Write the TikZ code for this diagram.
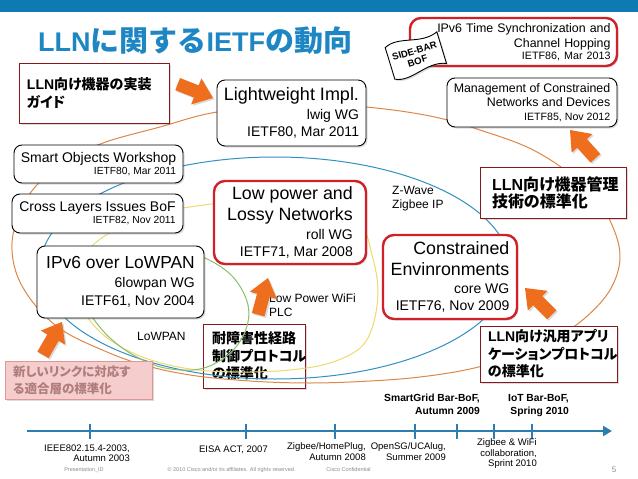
\documentclass[tikz,border=0pt]{standalone}
\usepackage{fontspec}
\setmainfont{Liberation Sans}
\newfontfamily\jpb{Noto Sans CJK JP Bold}[RawFeature=+palt]
\newfontfamily\jpt{Noto Sans CJK JP Bold}
\usetikzlibrary{shadows,arrows.meta}
\definecolor{bandblue}{RGB}{14,122,180}
\definecolor{titleblue}{RGB}{30,135,195}
\definecolor{boxred}{RGB}{208,32,40}
\definecolor{notered}{RGB}{135,25,30}
\definecolor{arrowor}{RGB}{238,110,30}
\definecolor{cOrange}{RGB}{222,135,70}
\definecolor{cBlue}{RGB}{50,145,195}
\definecolor{cYellow}{RGB}{238,218,110}
\definecolor{cGreen}{RGB}{140,190,110}
\definecolor{tlblue}{RGB}{45,125,175}
\definecolor{pinkfill}{RGB}{246,205,205}
\definecolor{pinkline}{RGB}{225,150,150}
\definecolor{pinktext}{RGB}{176,125,125}
\definecolor{footgray}{RGB}{140,140,140}
\newcommand\jj[1]{{\jpb #1}}
\newcommand\bline[1]{{\fontsize{17.8}{18}\selectfont #1}}
\tikzset{
  boxshadow/.style={drop shadow={shadow xshift=1.5pt, shadow yshift=-1.5pt, opacity=0.28}},
  rbox/.style={draw=black, line width=0.9pt, rounded corners=8pt, fill=white, boxshadow, align=right, inner sep=0pt},
  redbox/.style={rbox, draw=boxred, line width=2.4pt, rounded corners=11pt},
  notebox/.style={draw=notered, line width=0.9pt, fill=white, boxshadow, align=left, inner ysep=0pt, font=\bfseries\fontsize{14}{17.5}\selectfont},
  tl/.style={align=right, inner sep=0pt, font=\fontsize{9.5}{10.8}\selectfont},
  tlb/.style={align=right, inner sep=0pt, font=\bfseries\fontsize{10.3}{12.8}\selectfont},
  foot/.style={inner sep=0pt, text=footgray, font=\fontsize{5.5}{6}\selectfont},
  lbl/.style={align=left, inner sep=0pt, font=\fontsize{12}{13.5}\selectfont},
  curve/.style={line width=1pt},
  tick/.style={tlblue, line width=2.2pt},
  fatarrow/.pic={\path[fill=arrowor, boxshadow] (-38,-6.5) -- (-18,-6.5) -- (-18,-14) -- (0,0) -- (-18,14) -- (-18,6.5) -- (-38,6.5) -- cycle;},
}
\begin{document}
\begin{tikzpicture}[x=1pt,y=-1pt]
\useasboundingbox (0,0) rectangle (638,479);
\fill[white] (0,0) rectangle (638,479);
\fill[bandblue] (0,0) rectangle (638,12);

\node[anchor=base west, inner sep=0pt, text=titleblue, font=\bfseries\fontsize{27}{30}\selectfont] (title) at (38,52) {LLN{\jpt\fontsize{29}{30}\selectfont に関する}IETF{\jpt\fontsize{29}{30}\selectfont の動向}};

% box under the curves
\node[notebox, minimum width=102pt, minimum height=64pt, text width=84pt, inner xsep=9pt] (route) at (254,356) {\jj{耐障害性経路}\\\jj{制御プロトコル}\\\jj{の標準化}};

% curves
\draw[curve, cOrange] plot[smooth cycle, tension=0.6] coordinates {(217,112) (300,104) (366,107) (430,116) (480,130) (537,152) (590,190) (612,225) (620,258) (610,290) (585,318) (555,338) (515,356) (470,369) (420,377) (370,381) (310,383) (250,381) (190,375) (140,364) (100,349) (62,330) (35,305) (17,275) (12,243) (20,212) (36,186) (65,162) (103,143) (160,127)};
\draw[curve, cBlue] (275,268) ellipse [x radius=235, y radius=111];
\draw[curve, cYellow] plot[smooth cycle, tension=0.6] coordinates {(183,208) (250,201) (320,206) (360,225) (372,255) (378,290) (373,325) (360,348) (330,363) (290,370) (240,372) (190,369) (145,358) (110,340) (88,318) (76,292) (78,265) (93,245) (115,230) (145,217)};
\draw[curve, cGreen] plot[smooth cycle, tension=0.6] coordinates {(205,258) (233,277) (248,305) (245,332) (228,355) (200,369) (165,368) (135,356) (110,338) (92,317) (75,292) (85,265) (120,250) (170,248)};

% boxes
\node[notebox, minimum width=150pt, minimum height=60pt, text width=134pt, inner xsep=8pt] (impl) at (94,93) {LLN\jj{向け機器の実装}\\\jj{ガイド}};
\node[rbox, minimum width=149pt, minimum height=66pt, font=\fontsize{14}{17}\selectfont] (lwig) at (291.5,113) {{\fontsize{18}{18}\selectfont Lightweight Impl.}\\[1.5pt]lwig WG\\IETF80, Mar 2011};
\node[redbox, minimum width=207pt, minimum height=48pt, text width=194pt, inner xsep=6.5pt, font=\fontsize{12.4}{14}\selectfont] (tsch) at (513.5,42) {IPv6 Time Synchronization and\\[1pt]Channel Hopping\\[-1.4pt]{\fontsize{10.7}{12}\selectfont IETF86, Mar 2013}};
\node[rbox, minimum width=170pt, minimum height=49pt, font=\fontsize{12.4}{14}\selectfont] (mgmt) at (532,102.5) {Management of Constrained\\Networks and Devices\\{\fontsize{10.6}{12}\selectfont IETF85, Nov 2012}};
\node[notebox, minimum width=146pt, minimum height=51pt, text width=122pt, inner xsep=12pt, font=\bfseries\fontsize{16}{17}\selectfont] (mgmtnote) at (553,192.5) {LLN\jj{向け機器管理}\\\jj{技術の標準化}};
\node[rbox, minimum width=169pt, minimum height=38pt, font=\fontsize{10.3}{12.6}\selectfont] (smart) at (98.5,164) {{\fontsize{14}{14}\selectfont Smart Objects Workshop}\\IETF80, Mar 2011};
\node[rbox, minimum width=171pt, minimum height=39pt, font=\fontsize{10.3}{12.2}\selectfont] (cross) at (97.5,213.5) {{\fontsize{14}{14}\selectfont Cross Layers Issues BoF}\\IETF82, Nov 2011};
\node[rbox, minimum width=167pt, minimum height=72pt, font=\fontsize{14}{18}\selectfont] (lowpan) at (120.5,282) {{\fontsize{17.4}{18}\selectfont IPv6 over LoWPAN}\\[1pt]6lowpan WG\\IETF61, Nov 2004};
\node[redbox, minimum width=152pt, minimum height=83pt, font=\fontsize{14}{17}\selectfont] (roll) at (290,222.5) {\bline{Low power and}\\[4pt]\bline{Lossy Networks}\\[1.5pt]roll WG\\IETF71, Mar 2008};
\node[redbox, minimum width=134pt, minimum height=84pt, font=\fontsize{14}{17}\selectfont] (core) at (450,277) {\bline{Constrained}\\[4pt]\bline{Envinronments}\\[1.5pt]core WG\\IETF76, Nov 2009};
\node[notebox, minimum width=137pt, minimum height=56pt, text width=121pt, inner xsep=8pt] (app) at (548.5,354) {LLN\jj{向け汎用アプリ}\\\jj{ケーションプロトコル}\\\jj{の標準化}};
\node[notebox, draw=pinkline, fill=pinkfill, text=pinktext, minimum width=147pt, minimum height=38pt, text width=131pt, inner xsep=8pt, font=\bfseries\fontsize{12.5}{17}\selectfont] (pink) at (78.5,380) {\jj{新しいリンクに対応す}\\\jj{る適合層の標準化}};

% flag
\begin{scope}[shift={(416,56)}, rotate=17]
\draw[fill=white, line width=0.9pt, boxshadow] (-27,-17) .. controls (-11,-25) and (8,-9) .. (27,-17) -- (27,16) .. controls (8,8) and (-11,24) .. (-27,16) -- cycle;
\node[transform shape, inner sep=0pt, align=center, font=\bfseries\fontsize{9.5}{10.5}\selectfont] (sidebar) at (0,0) {SIDE-BAR\\BOF};
\end{scope}

% labels
\node[lbl, anchor=west] (zw) at (392,198.5) {Z-Wave\\Zigbee IP};
\node[lbl, anchor=west] (lpw) at (269,305) {Low Power WiFi\\PLC};
\node[lbl, anchor=west] (lowpanlbl) at (137,336) {LoWPAN};

% arrows
\pic[rotate=-21.5] at (213,98) {fatarrow};
\pic[rotate=132] at (570,130) {fatarrow};
\pic[rotate=75] at (268,278) {fatarrow};
\pic[rotate=60] at (62,322) {fatarrow};
\pic[rotate=135] at (525,288) {fatarrow};

% timeline
\coordinate (tlstart) at (27,431);
\coordinate (tlend) at (612,431);
\draw[tlblue, line width=2.2pt, -{Triangle[length=9pt,width=10pt]}] (tlstart) -- (tlend);
\foreach \x in {90,246,335,415,457,494,532} \draw[tick] (\x,424) -- (\x,439);
\node[tl, anchor=north east] (l1) at (130,444.3) {IEEE802.15.4-2003,\\Autumn 2003};
\node[tl, anchor=base east] (l2) at (268,452.3) {EISA ACT, 2007};
\node[tl, anchor=north east] (l3) at (366,442.7) {Zigbee/HomePlug,\\Autumn 2008};
\node[tl, anchor=north east] (l4) at (446,442.7) {OpenSG/UCAlug,\\Summer 2009};
\node[tlb, anchor=north east] (l5) at (480,394) {SmartGrid Bar-BoF,\\Autumn 2009};
\node[tlb, anchor=north east] (l6) at (569,394) {IoT Bar-BoF,\\Spring 2010};
\node[tl, anchor=north east] (l7) at (537,438.3) {Zigbee \& WiFi\\collaboration,\\Sprint 2010};

% footer
\node[foot] (f1) at (84,470) {Presentation\_ID};
\node[foot] (f2) at (231.5,470) {© 2010 Cisco and/or its affiliates. All rights reserved.};
\node[foot] (f3) at (348.5,470) {Cisco Confidential};
\node[foot, font=\fontsize{8}{9}\selectfont] (f4) at (614,470) {5};
\end{tikzpicture}
\end{document}
